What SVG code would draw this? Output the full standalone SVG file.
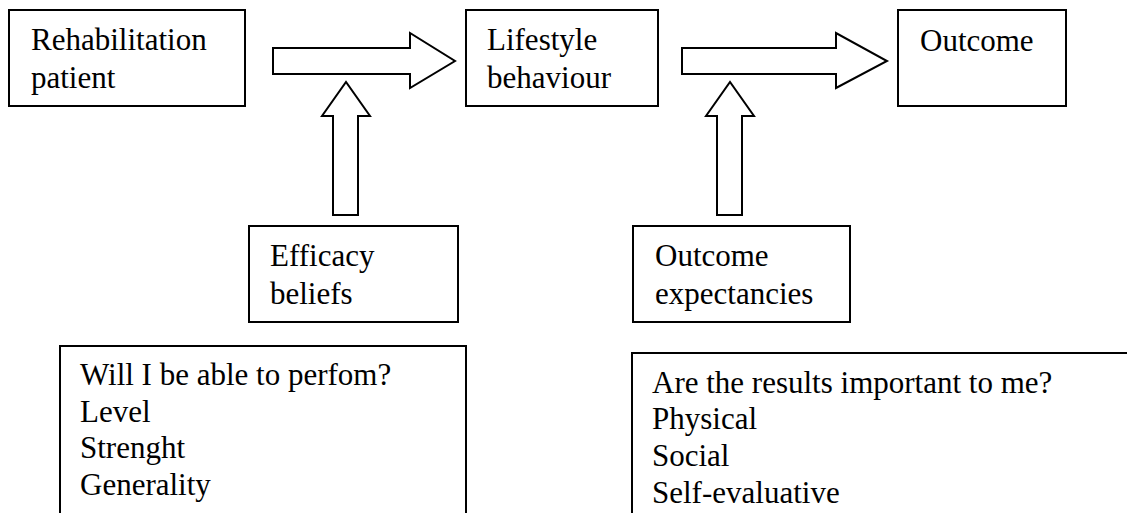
<svg xmlns="http://www.w3.org/2000/svg" width="1127" height="513" viewBox="0 0 1127 513">
<style>
.box{fill:#fff;stroke:#000;stroke-width:2}
.arr{fill:#fff;stroke:#000;stroke-width:2;stroke-linejoin:miter}
.t{font-family:"Liberation Serif","Times New Roman",serif;font-size:31px;fill:#000}
</style>
<rect width="1127" height="513" fill="#fff"/>
<g id="connectors">
<polygon class="arr" points="273,48 410,48 410,33 455,61 410,88 410,74 273,74"/>
<polygon class="arr" points="682,48 836,48 836,33 887,61 836,88 836,74 682,74"/>
<polygon class="arr" points="333,215 333,116 322,116 346,82 370,116 358,116 358,215"/>
<polygon class="arr" points="717,215 717,116 706,116 730,82 754,116 742,116 742,215"/>
</g>
<g id="rehab">
<rect class="box" x="9" y="10" width="236" height="96"/>
<text class="t" x="31" y="50">Rehabilitation</text>
<text class="t" x="31" y="88">patient</text>
</g>
<g id="lifestyle">
<rect class="box" x="466" y="10" width="192" height="96"/>
<text class="t" x="487" y="50">Lifestyle</text>
<text class="t" x="487" y="88">behaviour</text>
</g>
<g id="outcome">
<rect class="box" x="898" y="10" width="168" height="96"/>
<text class="t" x="920" y="51">Outcome</text>
</g>
<g id="efficacy">
<rect class="box" x="249" y="226" width="209" height="96"/>
<text class="t" x="270" y="266">Efficacy</text>
<text class="t" x="270" y="304">beliefs</text>
</g>
<g id="expectancies">
<rect class="box" x="633" y="226" width="217" height="96"/>
<text class="t" x="655" y="266">Outcome</text>
<text class="t" x="655" y="304">expectancies</text>
</g>
<g id="efficacy-detail">
<path d="M60,520 V346 H466 V520" fill="none" stroke="#000" stroke-width="2"/>
<text class="t" x="80" y="385">Will I be able to perfom?</text>
<text class="t" x="80" y="422">Level</text>
<text class="t" x="80" y="458">Strenght</text>
<text class="t" x="80" y="495">Generality</text>
</g>
<g id="outcome-detail">
<path d="M632,520 V353 H1130" fill="none" stroke="#000" stroke-width="2"/>
<text class="t" x="652" y="393">Are the results important to me?</text>
<text class="t" x="652" y="429">Physical</text>
<text class="t" x="652" y="466">Social</text>
<text class="t" x="652" y="503">Self-evaluative</text>
</g>
</svg>
